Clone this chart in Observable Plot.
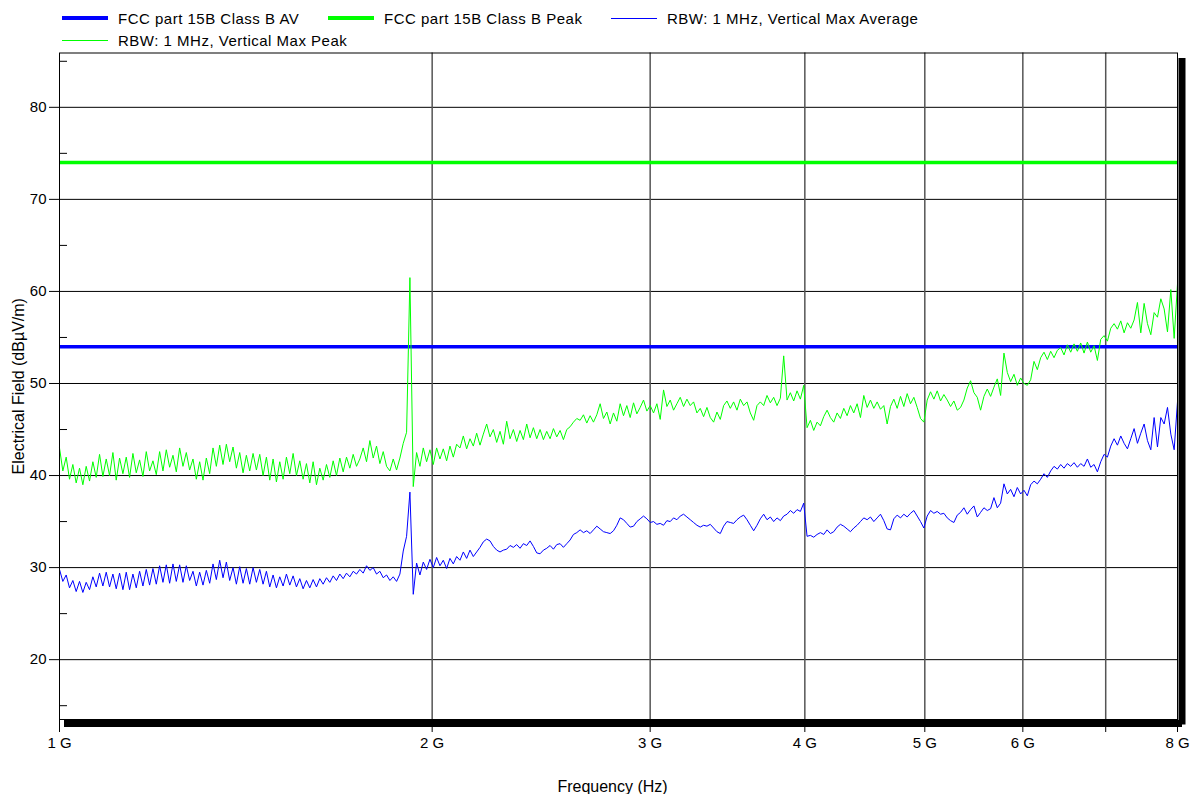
<!DOCTYPE html>
<html><head><meta charset="utf-8">
<script src="https://cdn.jsdelivr.net/npm/d3@7"></script>
<script src="https://cdn.jsdelivr.net/npm/@observablehq/plot@0.6"></script>
<style>
body{margin:0;background:#fff;font-family:"Liberation Sans",Arial,sans-serif;}
#wrap{position:relative;width:1197px;height:794px;overflow:hidden;}
#legend{position:relative;height:48px;font-size:15px;letter-spacing:0.5px;color:#000;}
.item{position:absolute;height:18px;display:flex;align-items:center;white-space:nowrap;}
.sw{width:46px;margin-right:10px;}
#chart svg{display:block;}
</style></head><body>
<div id="wrap"><div id="legend"></div><div id="chart"></div></div>
<script>
// ---- data ----
const sweepStartHz = 1e9;
const sweepStopHz = 8e9;

// RBW: 1 MHz, Vertical Max Peak (dBµV/m), log-spaced sweep points 1 GHz → 8 GHz
const peakTrace = [
  43.0,40.5,42.0,39.6,41.2,39.2,40.8,39.0,41.0,39.4,41.5,39.8,42.3,39.9,41.8,40.0,42.5,39.5,41.9,40.2,42.0,39.8,42.4,40.3,41.7,39.9,42.6,40.5,41.6,40.1,
  42.6,40.5,42.8,40.9,42.2,40.4,43.0,41.0,42.5,40.6,41.8,39.6,41.5,39.5,41.9,40.2,43.0,41.0,43.3,41.2,43.4,41.5,43.1,40.8,42.5,40.3,42.2,40.5,42.4,40.6,
  42.3,40.0,42.0,39.5,41.8,39.3,41.5,39.6,42.0,40.2,42.4,40.0,41.6,39.6,41.3,39.2,41.5,39.0,40.8,39.5,41.2,39.8,41.6,40.0,41.9,40.4,42.0,40.8,42.3,41.0,
  41.8,43.0,41.5,43.8,41.9,43.2,41.3,42.6,41.0,40.5,41.8,40.6,41.9,43.5,44.7,61.5,38.8,42.5,41.0,43.0,41.5,42.8,41.2,43.0,41.8,42.9,41.6,43.2,42.0,43.4,
  43.0,44.3,42.9,44.0,43.2,44.6,43.3,44.5,45.6,44.2,45.0,43.6,44.8,43.4,45.9,44.0,45.0,43.7,44.9,43.9,45.6,44.1,45.2,44.0,45.0,43.9,44.8,44.0,45.1,44.2,
  44.9,43.9,45.0,45.3,45.8,46.2,46.0,46.6,45.7,46.5,45.8,46.6,47.8,46.2,46.9,45.6,46.8,45.9,47.8,46.5,47.6,46.3,47.9,46.7,47.4,48.2,47.0,47.6,46.8,47.8,
  46.1,49.3,47.5,48.2,47.1,47.8,48.5,47.5,48.3,47.6,48.0,46.8,47.3,46.4,47.4,46.3,45.8,46.9,46.1,47.6,48.1,47.3,48.0,47.1,48.3,47.6,48.0,46.8,46.0,47.6,
  48.0,47.6,48.7,47.9,48.5,47.6,48.4,53.0,48.2,49.0,48.1,49.2,48.3,49.8,45.2,46.0,44.9,45.8,45.4,46.4,47.1,46.3,45.8,46.8,46.2,47.3,46.5,47.6,46.8,47.8,
  46.3,48.7,47.4,48.2,47.3,48.0,47.2,47.6,45.6,47.5,48.3,47.3,48.6,47.5,48.9,47.8,48.5,47.4,46.2,45.8,48.2,49.1,48.3,49.2,48.1,48.8,48.2,47.5,48.1,47.1,
  47.4,48.2,49.5,50.3,49.0,48.5,47.1,48.6,49.4,48.6,49.6,50.5,48.7,53.3,51.2,50.2,51.0,49.8,50.6,50.0,49.8,50.4,52.4,51.5,52.8,53.4,52.6,53.5,52.8,53.6,
  53.9,53.1,54.2,53.4,54.3,53.5,54.4,53.3,54.5,53.4,54.1,52.5,54.8,55.2,54.6,56.0,56.5,55.9,56.8,55.5,56.6,56.0,56.9,58.8,55.5,58.7,56.5,55.3,57.7,57.2,
  59.2,58.1,55.6,60.2,54.9,60.8
];

// RBW: 1 MHz, Vertical Max Average (dBµV/m), same sweep points
const avgTrace = [
  29.8,28.5,29.2,27.8,28.6,27.4,28.5,27.3,28.4,27.6,29.0,27.9,29.4,28.0,29.5,27.9,29.3,27.7,29.4,27.6,29.5,27.6,29.3,27.8,29.6,28.0,29.8,28.1,29.9,28.2,
  30.2,28.4,30.3,28.3,30.4,28.5,30.3,28.4,30.2,28.6,29.6,28.0,29.5,28.1,29.7,28.3,30.4,28.7,30.8,28.9,30.6,28.6,30.0,28.2,30.1,28.3,29.9,28.2,30.0,28.4,
  29.8,28.2,29.6,27.9,29.2,27.8,29.0,28.0,29.3,28.1,29.1,27.9,28.8,27.7,28.6,27.8,28.7,27.9,28.8,28.2,28.9,28.4,29.1,28.6,29.3,28.8,29.4,29.0,29.6,29.3,
  29.8,29.4,30.2,29.7,30.0,29.3,29.6,28.9,29.2,28.6,29.0,28.5,29.3,31.8,33.4,38.2,27.1,30.5,29.2,30.6,29.8,30.9,30.0,31.1,30.2,30.8,29.9,31.0,30.4,31.2,
  30.8,31.7,31.0,31.9,31.2,31.7,32.2,32.8,33.1,32.9,32.3,31.9,31.7,31.9,32.0,32.4,32.2,32.5,32.1,32.6,32.4,32.9,32.3,31.6,31.5,31.9,32.1,32.4,32.0,32.5,
  32.6,32.2,32.6,33.0,33.6,33.8,34.1,33.8,34.0,33.7,34.1,34.5,34.2,33.9,33.8,33.7,34.0,34.6,35.4,35.2,34.8,34.4,34.5,35.0,35.3,35.6,35.3,34.9,35.0,34.7,
  34.8,34.6,35.1,35.0,35.4,35.2,35.6,35.8,35.5,35.2,34.9,34.6,34.4,34.6,34.5,34.7,34.3,33.9,33.7,34.5,35.0,34.9,34.8,35.2,35.5,35.7,35.2,34.6,34.0,34.6,
  35.3,35.8,35.2,35.5,35.0,35.4,35.1,35.6,35.8,36.2,35.9,36.3,36.1,37.0,33.4,33.5,33.3,33.6,33.8,33.6,34.1,33.7,33.9,34.4,34.7,34.5,34.2,33.9,34.3,34.6,
  35.0,35.4,35.2,35.5,35.0,35.4,35.8,35.1,34.2,34.1,35.3,35.7,35.4,35.8,35.5,35.9,36.2,35.6,35.0,34.3,35.6,36.2,35.9,36.1,35.8,35.9,35.4,35.1,34.9,35.7,
  36.0,36.5,35.8,36.3,36.7,35.5,36.0,36.5,36.2,36.4,37.6,36.5,37.0,39.1,38.0,38.5,37.7,38.7,38.0,38.4,37.8,39.0,39.4,39.1,39.6,40.2,39.8,40.5,41.0,40.7,
  41.2,40.8,41.3,41.0,41.4,40.9,41.3,41.0,41.8,40.9,41.2,40.4,41.5,42.3,42.0,43.2,44.0,43.3,44.3,43.5,42.9,44.0,45.1,43.5,44.6,45.6,43.8,42.8,46.3,43.1,
  46.3,45.6,47.4,44.5,42.8,48.0
];

const limitAV = 54;    // FCC part 15B Class B AV
const limitPeak = 74;  // FCC part 15B Class B Peak

const freqTicks = [1e9, 2e9, 3e9, 4e9, 5e9, 6e9, 7e9, 8e9];
const freqTickLabels = ["1 G", "2 G", "3 G", "4 G", "5 G", "6 G", "", "8 G"];
const yMajorTicks = [20, 30, 40, 50, 60, 70, 80];
const yMinorTicks = [15, 25, 35, 45, 55, 65, 75, 85];
const yDomain = [13.5, 85.9];

const legendItems = [
  {label: "FCC part 15B Class B AV", color: "#0000ff", thick: 4, left: 62, top: 9},
  {label: "FCC part 15B Class B Peak", color: "#00ff00", thick: 4, left: 328, top: 9},
  {label: "RBW: 1 MHz, Vertical Max Average", color: "#0000ff", thick: 1, left: 611, top: 9},
  {label: "RBW: 1 MHz, Vertical Max Peak", color: "#00ff00", thick: 1, left: 62, top: 31}
];

// ---- build ----
function toRows(values) {
  const n = values.length;
  const ratio = sweepStopHz / sweepStartHz;
  return values.map((v, i) => ({f: sweepStartHz * Math.pow(ratio, i / (n - 1)), v}));
}
const peakRows = toRows(peakTrace);
const avgRows = toRows(avgTrace);

const legend = document.getElementById("legend");
for (const it of legendItems) {
  const d = document.createElement("div");
  d.className = "item";
  d.style.left = it.left + "px";
  d.style.top = it.top + "px";
  const s = document.createElement("span");
  s.className = "sw";
  s.style.height = it.thick + "px";
  s.style.background = it.color;
  d.appendChild(s);
  d.appendChild(document.createTextNode(it.label));
  legend.appendChild(d);
}

const chart = Plot.plot({
  width: 1197,
  height: 746,
  marginTop: 4.5,
  marginBottom: 75,
  marginLeft: 59,
  marginRight: 20,
  style: {fontSize: "14px", fontFamily: "'Liberation Sans', Arial, sans-serif", color: "#000", background: "#fff", overflow: "visible"},
  x: {type: "log", domain: [sweepStartHz, sweepStopHz]},
  y: {domain: yDomain},
  marks: [
    Plot.gridY(yMajorTicks, {stroke: "#000", strokeOpacity: 1}),
    Plot.gridX(freqTicks.slice(1, -1), {stroke: "#555", strokeOpacity: 1, strokeWidth: 1.5}),
    Plot.axisY(yMajorTicks, {tickSize: 10, tickPadding: 3, fontSize: 15, label: null}),
    Plot.axisY(yMinorTicks, {tickSize: 8, dx: 8, tickFormat: () => "", label: null}),
    Plot.axisX(freqTicks, {tickSize: 13, tickPadding: 5, fontSize: 15, label: null,
      tickFormat: d => freqTickLabels[freqTicks.indexOf(d)]}),
    Plot.ruleY([limitAV], {stroke: "#0000ff", strokeWidth: 3.5}),
    Plot.ruleY([limitPeak], {stroke: "#00ff00", strokeWidth: 3.5}),
    Plot.line(avgRows, {x: "f", y: "v", stroke: "#0000ff", strokeWidth: 1}),
    Plot.line(peakRows, {x: "f", y: "v", stroke: "#00ff00", strokeWidth: 1}),
    Plot.frame({stroke: "#000"}),
    Plot.ruleY([yDomain[0]], {x1: sweepStartHz, x2: sweepStopHz, stroke: "#000", strokeWidth: 7, dx: 5, dy: 4}),
    Plot.ruleX([sweepStopHz], {y1: yDomain[0], y2: yDomain[1], stroke: "#000", strokeWidth: 7, dx: 4.5, dy: 5.5}),
    Plot.text(["Electrical Field (dBµV/m)"], {frameAnchor: "left", rotate: -90, dx: -41, text: d => d,
      fontSize: 16, textAnchor: "middle", lineAnchor: "middle", style: {letterSpacing: "0.5px"}}),
    Plot.text(["Frequency (Hz)"], {frameAnchor: "bottom", dy: 67, dx: -6, text: d => d,
      fontSize: 16, textAnchor: "middle", lineAnchor: "middle"})
  ]
});
document.getElementById("chart").appendChild(chart);
</script>
</body></html>
